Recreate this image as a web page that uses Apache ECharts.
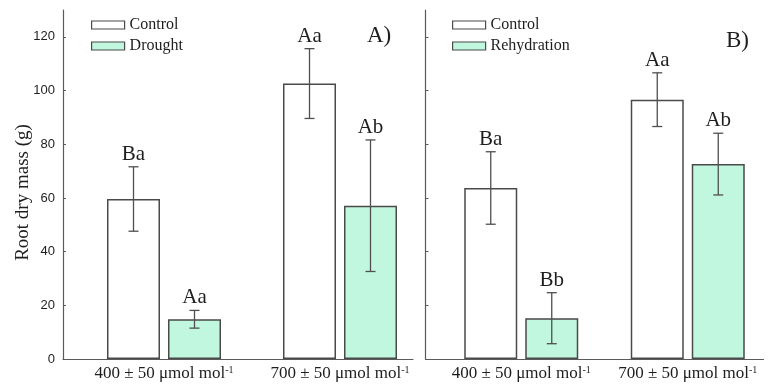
<!DOCTYPE html>
<html>
<head>
<meta charset="utf-8">
<script src="https://cdn.jsdelivr.net/npm/echarts@6/dist/echarts.min.js"></script>
<style>
  html, body { margin: 0; padding: 0; background: #fff; }
  #chart { width: 771px; height: 385px; }
</style>
</head>
<body>
<div id="chart"></div>
<script>
// CO2 concentration groups
const categories = ['400 ± 50 μmol mol', '700 ± 50 μmol mol'];
const unitSup = '-1';

// Panel A: control vs drought
const controlA = [59.6, 102.6];
const controlAErr = [12.0, 13.0];
const controlALetters = ['Ba', 'Aa'];
const droughtA = [14.8, 57.1];
const droughtAErr = [3.3, 24.5];
const droughtALetters = ['Aa', 'Ab'];

// Panel B: control vs rehydration
const controlB = [63.7, 96.6];
const controlBErr = [13.5, 10.0];
const controlBLetters = ['Ba', 'Aa'];
const rehydB = [15.2, 72.6];
const rehydBErr = [9.5, 11.5];
const rehydBLetters = ['Bb', 'Ab'];

const yTicks = [0, 20, 40, 60, 80, 100, 120];
const yMax = 130;

const SERIF = 'Liberation Serif';
const SANS = 'Liberation Sans';
const INK = '#1e1e1e';
const AXIS = '#5a5a5a';
const EDGE = '#4a4a4a';
const MINT = '#c0f7de';

const BAR_W = 53;
const BAR_GAP = 8;
const HALF_STEP = (BAR_W + BAR_GAP) / 2;

function errorSeries(xIdx, values, errs, letters, side) {
  return {
    type: 'custom',
    xAxisIndex: xIdx,
    yAxisIndex: xIdx,
    z: 5,
    silent: true,
    data: values.map((v, i) => [i, v, errs[i]]),
    encode: { x: 0, y: 1 },
    renderItem: function (params, api) {
      const i = api.value(0);
      const v = api.value(1);
      const e = api.value(2);
      const letter = letters[params.dataIndex];
      const top = api.coord([i, v + e]);
      const bot = api.coord([i, v - e]);
      const x = top[0] + side * HALF_STEP;
      const cap = 5;
      const ls = { stroke: '#4f4f4f', lineWidth: 1.3 };
      return {
        type: 'group',
        children: [
          { type: 'line', shape: { x1: x, y1: top[1], x2: x, y2: bot[1] }, style: ls },
          { type: 'line', shape: { x1: x - cap, y1: top[1], x2: x + cap, y2: top[1] }, style: ls },
          { type: 'line', shape: { x1: x - cap, y1: bot[1], x2: x + cap, y2: bot[1] }, style: ls },
          { type: 'text', style: { text: letter, x: x, y: top[1] - 2, align: 'center', verticalAlign: 'bottom',
              fontFamily: SERIF, fontSize: 21, fill: INK } }
        ]
      };
    }
  };
}

function barSeries(idx, name, values, fill) {
  return {
    type: 'bar',
    name: name,
    xAxisIndex: idx,
    yAxisIndex: idx,
    data: values,
    barWidth: BAR_W,
    barGap: (BAR_GAP / BAR_W * 100).toFixed(1) + '%',
    itemStyle: { color: fill, borderColor: EDGE, borderWidth: 1.5 },
    emphasis: { disabled: true }
  };
}

const catLabel = {
  interval: 0,
  hideOverlap: false,
  fontFamily: SERIF, fontSize: 17, color: INK, margin: 6,
  formatter: v => '{m|' + v + '}{s|' + unitSup + '}',
  rich: {
    m: { fontFamily: SERIF, fontSize: 17, color: INK },
    s: { fontFamily: SERIF, fontSize: 10, color: INK, verticalAlign: 'top', padding: [0, 0, 6, 0] }
  }
};

const chart = echarts.init(document.getElementById('chart'), null, { renderer: 'canvas' });

const option = {
  animation: false,
  backgroundColor: '#fff',
  grid: [
    // bar layout grids
    { left: 76, width: 352, top: 10, bottom: 26 },
    { left: 438, width: 350, top: 10, bottom: 26 },
    // axis frame grids
    { left: 63, width: 350, top: 10, bottom: 26 },
    { left: 425.5, width: 338, top: 10, bottom: 26 }
  ],
  xAxis: [
    { gridIndex: 0, type: 'category', data: categories, axisLine: { show: false }, axisTick: { show: false }, axisLabel: catLabel },
    { gridIndex: 1, type: 'category', data: categories, axisLine: { show: false }, axisTick: { show: false }, axisLabel: catLabel },
    { gridIndex: 2, type: 'value', min: 0, max: 1, axisLine: { show: true, lineStyle: { color: AXIS, width: 1.2 } },
      axisTick: { show: false }, axisLabel: { show: false }, splitLine: { show: false } },
    { gridIndex: 3, type: 'value', min: 0, max: 1, axisLine: { show: true, lineStyle: { color: AXIS, width: 1.2 } },
      axisTick: { show: false }, axisLabel: { show: false }, splitLine: { show: false } }
  ],
  yAxis: [
    { gridIndex: 0, type: 'value', min: 0, max: yMax, show: false, splitLine: { show: false } },
    { gridIndex: 1, type: 'value', min: 0, max: yMax, show: false, splitLine: { show: false } },
    { gridIndex: 2, type: 'value', min: 0, max: yMax,
      name: 'Root dry mass (g)', nameLocation: 'middle', nameGap: 30, nameMoveOverlap: false,
      nameTextStyle: { fontFamily: SERIF, fontSize: 19, color: INK, padding: [0, 16, 0, 0] },
      axisLine: { show: true, lineStyle: { color: AXIS, width: 1.2 } },
      axisTick: { show: true, inside: true, length: 3, customValues: yTicks, lineStyle: { color: AXIS } },
      axisLabel: { show: true, customValues: yTicks, fontFamily: SANS, fontSize: 13, color: INK, margin: 8 },
      splitLine: { show: false } },
    { gridIndex: 3, type: 'value', min: 0, max: yMax,
      axisLine: { show: true, lineStyle: { color: AXIS, width: 1.2 } },
      axisTick: { show: true, inside: true, length: 3, customValues: yTicks, lineStyle: { color: AXIS } },
      axisLabel: { show: false },
      splitLine: { show: false } }
  ],
  legend: [
    { data: ['Control', 'Drought'], orient: 'vertical', left: 86, top: 12, itemWidth: 33, itemHeight: 8,
      itemGap: 5, icon: 'rect', selectedMode: false,
      itemStyle: { borderColor: EDGE, borderWidth: 1.2 },
      textStyle: { fontFamily: SERIF, fontSize: 16, color: INK } },
    { data: ['Control', 'Rehydration'], orient: 'vertical', left: 447, top: 12, itemWidth: 33, itemHeight: 8,
      itemGap: 5, icon: 'rect', selectedMode: false,
      itemStyle: { borderColor: EDGE, borderWidth: 1.2 },
      textStyle: { fontFamily: SERIF, fontSize: 16, color: INK } }
  ],
  graphic: [
    { type: 'text', left: 367, top: 24, style: { text: 'A)', fontFamily: SERIF, fontSize: 23, fill: INK } },
    { type: 'text', left: 726, top: 29, style: { text: 'B)', fontFamily: SERIF, fontSize: 23, fill: INK } }
  ],
  series: [
    barSeries(0, 'Control', controlA, '#ffffff'),
    barSeries(0, 'Drought', droughtA, MINT),
    barSeries(1, 'Control', controlB, '#ffffff'),
    barSeries(1, 'Rehydration', rehydB, MINT),
    errorSeries(0, controlA, controlAErr, controlALetters, -1),
    errorSeries(0, droughtA, droughtAErr, droughtALetters, 1),
    errorSeries(1, controlB, controlBErr, controlBLetters, -1),
    errorSeries(1, rehydB, rehydBErr, rehydBLetters, 1)
  ]
};

chart.setOption(option);
</script>
</body>
</html>
